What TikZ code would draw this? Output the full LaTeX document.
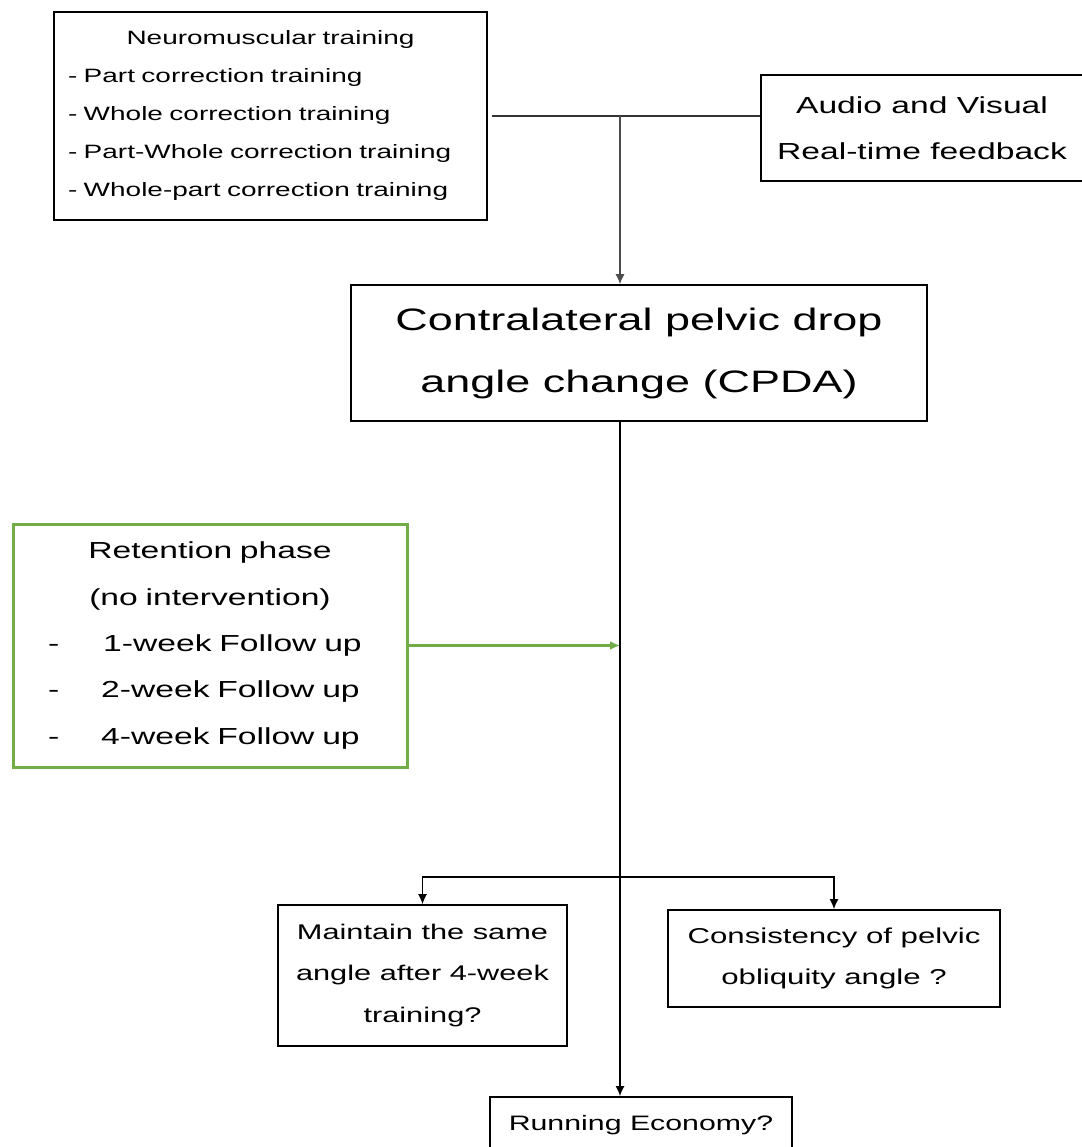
\documentclass[tikz,border=0pt]{standalone}
\usepackage{fontspec}
\newfontfamily\widesans[FakeStretch=1.45]{Liberation Sans}
\usetikzlibrary{arrows.meta}
\definecolor{retgreen}{HTML}{70AD47}
\begin{document}
\begin{tikzpicture}[x=1pt,y=-1pt,
  box/.style={draw,line width=1.6pt,inner sep=0pt,align=center},
  link/.style={line width=1.6pt,-{Latex[length=10pt,width=9pt]}}]
\useasboundingbox (0,0) rectangle (1081,1147);
% Training and feedback
\node[box,align=left,inner xsep=14pt,text width=405pt,minimum height=208pt,font=\widesans\fontsize{19.3}{38}\selectfont] (neuro) at (270.5,116) {\makebox[\linewidth]{Neuromuscular training}\\- Part correction training\\- Whole correction training\\- Part-Whole correction training\\- Whole-part correction training};
\node[box,minimum width=322pt,minimum height=106pt,font=\widesans\fontsize{23.2}{46}\selectfont] (audio) at (922,128) {Audio and Visual\\Real-time feedback};
\coordinate (feed) at (620,116);
\draw[line width=1.6pt,black!80,shorten <=4pt] (neuro.east) -- (audio.west |- neuro.east);
% CPDA
\node[box,minimum width=576pt,minimum height=136pt,font=\widesans\fontsize{31}{62}\selectfont] (cpda) at (639,353) {Contralateral pelvic drop\\angle change (CPDA)};
\draw[link,black!70,line width=1.3pt] (feed) -- (feed |- cpda.north);
% Retention phase
\node[box,draw=retgreen,line width=3pt,align=left,text width=394pt,minimum height=243pt,font=\widesans\fontsize{23.2}{46.3}\selectfont] (retain) at (210,645.5) {\makebox[\linewidth]{Retention phase}\\\makebox[\linewidth]{(no intervention)}\\\hspace*{35pt}-\hspace{44pt}1-week Follow up\\\hspace*{35pt}-\hspace{42pt}2-week Follow up\\\hspace*{35pt}-\hspace{42pt}4-week Follow up};
\draw[link,retgreen,line width=2.5pt] (retain.east) -- (retain.east -| feed);
% Outcomes
\node[box,minimum width=289pt,minimum height=141pt,font=\widesans\fontsize{21.2}{41.5}\selectfont] (keep) at (422.5,975.5) {Maintain the same\\angle after 4-week\\training?};
\node[box,minimum width=332pt,minimum height=97pt,font=\widesans\fontsize{21.5}{41}\selectfont] (tilt) at (834,958.5) {Consistency of pelvic\\obliquity angle ?};
\node[box,minimum width=302pt,minimum height=56pt,font=\widesans\fontsize{20.9}{40}\selectfont] (econ) at (641,1125) {Running Economy?};
\coordinate (split) at (620,877);
\draw[link] (feed |- cpda.south) -- (feed |- econ.north);
\draw[link] (split) -| (keep.north);
\draw[link] (split) -| (tilt.north);
\end{tikzpicture}
\end{document}
